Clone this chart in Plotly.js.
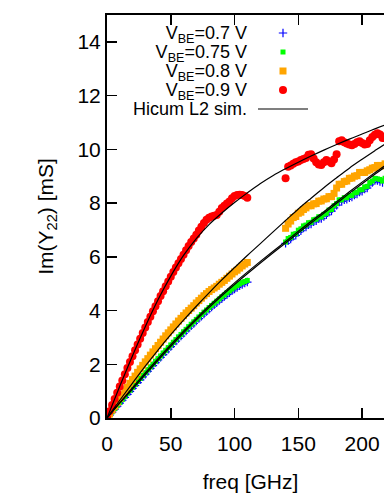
<!DOCTYPE html>
<html><head><meta charset="utf-8">
<script src="https://cdn.plot.ly/plotly-3.0.1.min.js"></script>
<style>html,body{margin:0;padding:0;overflow:hidden;background:#fff;width:384px;height:493px}#chart{width:400px;height:493px}</style>
</head><body><div id="chart"></div><script>
// Frequencies (GHz) of the two measured bands
const freqLow = [0,2,4,6,8,10,12,14,16,18,20,22,24,26,28,30,32,34,36,38,40,42,44,46,48,50,52,54,56,58,60,62,64,66,68,70,72,74,76,78,80,82,84,86,88,90,92,94,96,98,100,102,104,106,108,110];
const freqHigh = [140,142,144,146,148,150,152,154,156,158,160,162,164,166,168,170,172,174,176,178,180,182,184,186,188,190,192,194,196,198,200,202,204,206,208,210,212,214,216,218];
// Frequencies of the simulated curves
const simFreq = [0,10,20,30,40,50,60,70,80,90,100,110,120,130,140,150,160,170,180,190,200,210,220,230];

const seriesNames = ["V<sub>BE</sub>=0.7 V","V<sub>BE</sub>=0.75 V","V<sub>BE</sub>=0.8 V","V<sub>BE</sub>=0.9 V"];
const simName = "Hicum L2 sim.";

// Measured Im(Y22) [mS]
const vbe07Low = [0,0.11,0.22,0.33,0.44,0.55,0.66,0.77,0.88,0.99,1.10,1.21,1.32,1.42,1.53,1.63,1.74,1.85,1.95,2.06,2.16,2.26,2.36,2.46,2.56,2.66,2.76,2.86,2.96,3.05,3.15,3.24,3.34,3.43,3.52,3.61,3.70,3.79,3.87,3.96,4.05,4.13,4.21,4.29,4.37,4.44,4.52,4.59,4.66,4.73,4.80,4.86,4.92,4.97,5.02,5.06];
const vbe07High = [6.50,6.60,6.66,6.76,6.80,6.91,6.97,7.07,7.11,7.19,7.22,7.30,7.34,7.41,7.42,7.50,7.56,7.66,7.70,7.82,7.92,8.04,8.06,8.12,8.14,8.20,8.22,8.30,8.34,8.41,8.44,8.52,8.56,8.68,8.76,8.84,8.84,8.80,8.76,8.84];
const vbe075Low = [0,0.12,0.23,0.35,0.46,0.58,0.69,0.80,0.92,1.03,1.14,1.25,1.36,1.47,1.58,1.68,1.79,1.90,2.00,2.11,2.21,2.31,2.42,2.52,2.62,2.72,2.82,2.92,3.02,3.11,3.21,3.30,3.40,3.49,3.58,3.67,3.76,3.85,3.94,4.02,4.11,4.19,4.27,4.35,4.43,4.51,4.58,4.66,4.73,4.80,4.87,4.93,4.99,5.04,5.08,5.12];
const vbe075High = [6.55,6.68,6.72,6.84,6.86,6.99,7.04,7.15,7.18,7.27,7.28,7.38,7.40,7.49,7.48,7.58,7.62,7.74,7.76,7.90,7.98,8.12,8.12,8.20,8.20,8.28,8.28,8.38,8.40,8.49,8.50,8.60,8.62,8.76,8.82,8.92,8.90,8.88,8.82,8.92];
const vbe08Low = [0,0.15,0.30,0.44,0.58,0.73,0.87,1.01,1.15,1.29,1.43,1.56,1.70,1.83,1.96,2.09,2.21,2.34,2.46,2.58,2.70,2.82,2.94,3.06,3.17,3.28,3.39,3.50,3.61,3.71,3.81,3.91,4.00,4.09,4.18,4.28,4.37,4.46,4.55,4.63,4.71,4.78,4.84,4.90,4.98,5.05,5.12,5.20,5.28,5.36,5.44,5.50,5.58,5.66,5.73,5.79];
const vbe08High = [7.06,7.22,7.33,7.46,7.50,7.62,7.66,7.76,7.82,7.90,7.90,7.97,7.98,8.07,8.08,8.15,8.16,8.24,8.24,8.36,8.56,8.70,8.70,8.80,8.82,8.92,8.93,9.00,9.02,9.14,9.14,9.14,9.20,9.24,9.30,9.32,9.40,9.40,9.38,9.46];
const vbe09Low = [0.02,0.25,0.48,0.71,0.94,1.17,1.40,1.63,1.86,2.08,2.30,2.52,2.74,2.95,3.16,3.37,3.57,3.77,3.97,4.16,4.35,4.54,4.72,4.90,5.08,5.26,5.43,5.60,5.76,5.92,6.08,6.24,6.40,6.55,6.68,6.82,6.98,7.12,7.26,7.38,7.45,7.50,7.53,7.56,7.68,7.82,7.90,7.98,8.06,8.18,8.26,8.30,8.31,8.30,8.26,8.20];
const vbe09High = [8.92,9.35,9.40,9.46,9.52,9.55,9.60,9.64,9.68,9.80,9.82,9.66,9.52,9.44,9.42,9.52,9.60,9.55,9.48,9.62,9.82,10.30,10.34,10.26,10.22,10.18,10.15,10.20,10.26,10.30,10.24,10.18,10.20,10.34,10.46,10.54,10.60,10.55,10.42,10.48];

// Hicum L2 simulation [mS]
const sim07 = [0,0.55,1.08,1.62,2.15,2.67,3.17,3.65,4.11,4.55,4.97,5.37,5.76,6.14,6.51,6.89,7.26,7.62,7.99,8.36,8.72,9.07,9.41,9.74];
const sim075 = [0,0.57,1.13,1.68,2.21,2.73,3.23,3.71,4.17,4.61,5.03,5.43,5.82,6.20,6.57,6.95,7.32,7.68,8.05,8.42,8.78,9.13,9.47,9.80];
const sim08 = [0,0.66,1.30,1.93,2.53,3.10,3.64,4.16,4.66,5.14,5.60,6.05,6.48,6.92,7.35,7.78,8.18,8.57,8.94,9.30,9.63,9.95,10.26,10.55];
const sim09 = [0,1.18,2.32,3.40,4.40,5.28,6.05,6.68,7.20,7.63,8.02,8.38,8.72,9.02,9.28,9.52,9.75,9.97,10.18,10.38,10.57,10.76,10.94,11.10];

const xTicks = [0,50,100,150,200];
const yTicks = [0,2,4,6,8,10,12,14];

const FONT = '"Liberation Sans", Arial, sans-serif';

function meas(low, high, name, marker) {
  return {x: freqLow.concat(freqHigh), y: low.concat(high), type:'scatter', mode:'markers', name:name, marker:marker, showlegend:true};
}
function sim(vals, show) {
  return {x: simFreq, y: vals, type:'scatter', mode:'lines', name: simName, line:{color:'#000', width:1.2, shape:'spline', smoothing:1}, showlegend: show};
}

const traces = [
  meas(vbe07Low, vbe07High, seriesNames[0], {symbol:'cross-thin', size:6, color:'#0000ff', line:{color:'#0000ff', width:1.2}}),
  meas(vbe075Low, vbe075High, seriesNames[1], {symbol:'square', size:5, color:'#00ff00', line:{width:0}}),
  meas(vbe08Low, vbe08High, seriesNames[2], {symbol:'square', size:7, color:'#ffa500', line:{width:0}}),
  meas(vbe09Low, vbe09High, seriesNames[3], {symbol:'circle', size:8, color:'#ff0000', line:{width:0}}),
  sim(sim07, true), sim(sim075, false), sim(sim08, false), sim(sim09, false)
];

const L = 107, T = 15, W = 400, H = 493, R = 6, B = 75;
const pw = W - L - R, ph = H - T - B;
const px2x = p => (p - L) / pw;
const px2y = p => (H - B - p) / ph;

const layout = {
  width: W, height: H,
  margin: {l:L, r:R, t:T, b:B, pad:0},
  paper_bgcolor:'#fff', plot_bgcolor:'#fff',
  font: {family: FONT, size: 21, color:'#000'},
  showlegend: true,
  legend: {x: px2x(263), y: px2y(18.5), xanchor:'left', yanchor:'top', bgcolor:'rgba(0,0,0,0)', borderwidth:0,
           font:{family:FONT, size:12, color:'#000'}, itemwidth:30},
  xaxis: {range:[0,225], tickvals:xTicks, ticks:'inside', ticklen:10, tickwidth:1.5, tickcolor:'#000',
          showline:true, linewidth:2, linecolor:'#000', mirror:'allticks', showgrid:false, zeroline:false,
          tickfont:{size:21}, ticklabelstandoff:6,
          title:{text:'freq [GHz]', font:{size:21}, standoff:20}},
  yaxis: {range:[0,15], tickvals:yTicks, ticks:'inside', ticklen:10, tickwidth:1.5, tickcolor:'#000',
          showline:true, linewidth:2, linecolor:'#000', mirror:'allticks', showgrid:false, zeroline:false,
          tickfont:{size:21}, ticklabelstandoff:0,
          title:{text:'Im(Y<sub>22</sub>) [mS]', font:{size:21}, standoff:18}}
};

Plotly.newPlot('chart', traces, layout, {staticPlot:true, displayModeBar:false}).then(gd => {
  // gnuplot-style key: label text right-aligned to the left of its sample
  const sb = gd.querySelector('.legend .scrollbox');
  if (sb) sb.removeAttribute('clip-path');
  gd.querySelectorAll('.legend .traces').forEach(g => {
    const t = g.querySelector('text.legendtext');
    if (!t) return;
    t.setAttribute('text-anchor', 'end');
    t.setAttribute('x', -16);
    t.setAttribute('y', 6);
    t.style.fontSize = '18px';
    t.style.fill = '#000';
  });
  gd.querySelectorAll('.legend .legendlines path').forEach(p => p.setAttribute('d', 'M-5,0h50'));
});
</script></body></html>
